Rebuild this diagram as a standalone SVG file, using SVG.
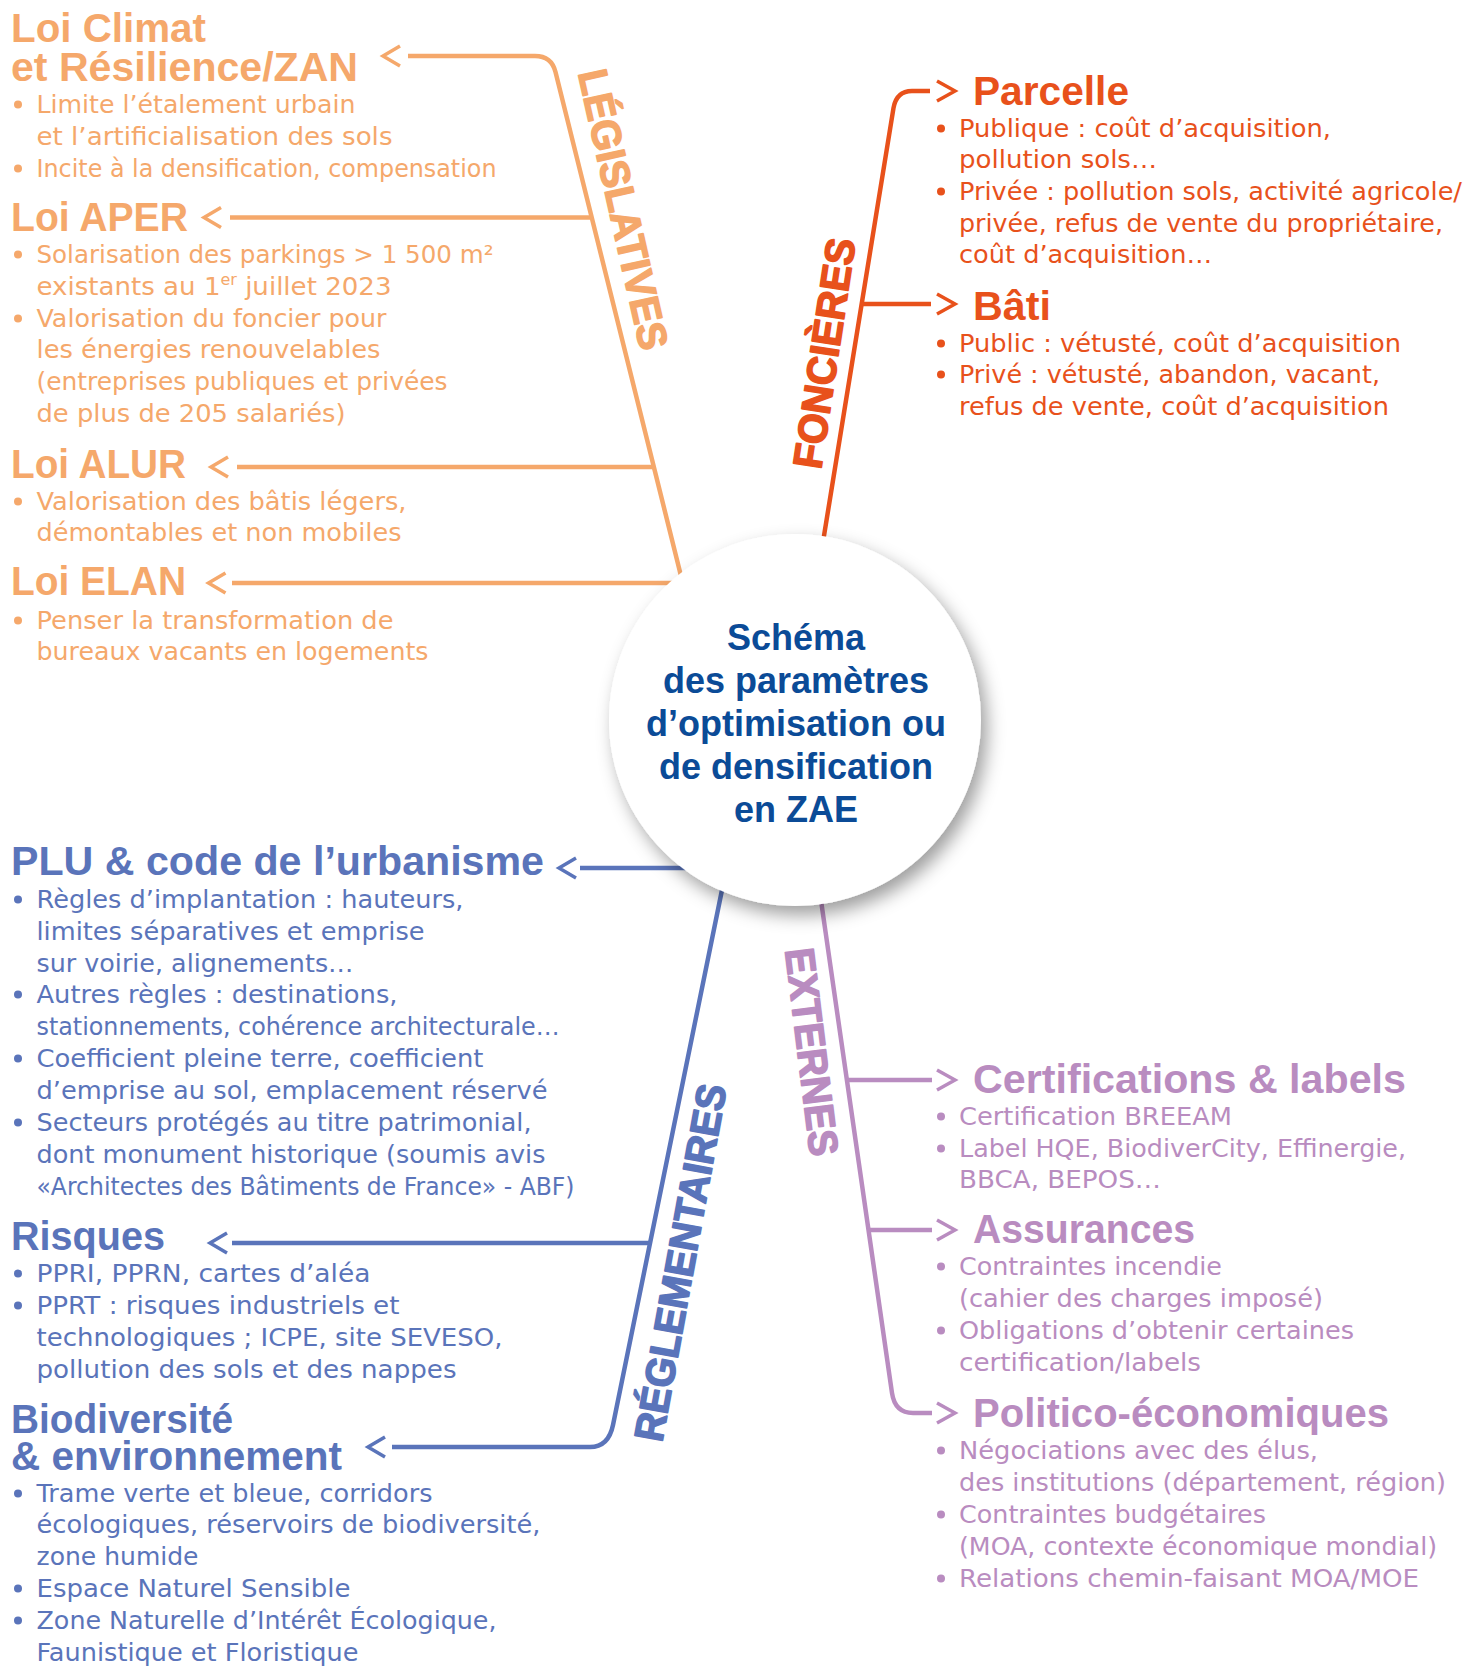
<svg xmlns="http://www.w3.org/2000/svg" width="1478" height="1667" viewBox="0 0 1478 1667">
<defs>
<style>
.h{font-family:"Liberation Sans",Arial,sans-serif;font-weight:bold;font-size:40px}
.b{font-family:"DejaVu Sans","Liberation Sans",sans-serif;font-size:24.5px}
.lbl{font-family:"Liberation Sans",Arial,sans-serif;font-weight:bold;font-size:41px;stroke-width:1.6;stroke-linejoin:round}
.ctr{font-family:"Liberation Sans",Arial,sans-serif;font-weight:bold;font-size:36px;fill:#0B4B97;text-anchor:middle}
.o1{fill:#F5A86B}.o2{fill:#E8511B}.bl{fill:#5A74BA}.pu{fill:#B98CC0}
.s1{stroke:#F5A86B}.s2{stroke:#E8511B}.s3{stroke:#5A74BA}.s4{stroke:#B98CC0}
.ln{fill:none;stroke-width:4.5;stroke-linejoin:round}
.ch{fill:none;stroke-width:3.5;stroke-linejoin:miter}
</style>
<path id="chevL" d="M17,-10 L0,0 L17,10"/>
<path id="chevR" d="M-18,-10 L0,0 L-18,10"/>
<circle id="dot" cx="0" cy="-8.5" r="4"/>
<filter id="shadow" x="-20%" y="-20%" width="150%" height="150%">
<feDropShadow dx="6" dy="9" stdDeviation="9" flood-color="#000" flood-opacity="0.38"/>
</filter>
</defs>
<rect width="1478" height="1667" fill="#fff"/>

<g id="connectors">
<path class="ln s1" d="M408 56 H535 Q551.5 56 555.5 72 L682 580"/>
<path class="ln s1" d="M230 217.5 H592"/>
<path class="ln s1" d="M237 467 H654"/>
<path class="ln s1" d="M232 583 H676"/>
<use href="#chevL" x="383" y="56" class="ch s1"/>
<use href="#chevL" x="204" y="217.5" class="ch s1"/>
<use href="#chevL" x="211" y="467" class="ch s1"/>
<use href="#chevL" x="208.5" y="583" class="ch s1"/>

<path class="ln s2" d="M822.5 545 L893.5 108 Q896.5 91 912 91 H930"/>
<path class="ln s2" d="M862 304 H931"/>
<use href="#chevR" x="955" y="91" class="ch s2"/>
<use href="#chevR" x="955" y="304" class="ch s2"/>

<path class="ln s3" d="M723 885 L613 1425 Q608.5 1447 590 1447 H392"/>
<path class="ln s3" d="M580 868 H700"/>
<path class="ln s3" d="M232 1243 H650"/>
<use href="#chevL" x="559" y="868" class="ch s3"/>
<use href="#chevL" x="210" y="1243" class="ch s3"/>
<use href="#chevL" x="368" y="1447" class="ch s3"/>

<path class="ln s4" d="M819.5 890 L892 1393 Q895 1413 913 1413 H932"/>
<path class="ln s4" d="M848 1080 H932"/>
<path class="ln s4" d="M869 1230 H932"/>
<use href="#chevR" x="955" y="1080" class="ch s4"/>
<use href="#chevR" x="955" y="1230" class="ch s4"/>
<use href="#chevR" x="955" y="1413" class="ch s4"/>
</g>

<g id="label-legislatives"><text class="lbl o1 s1" x="578" y="73" transform="rotate(77.3 578 73)" textLength="286" lengthAdjust="spacingAndGlyphs">LÉGISLATIVES</text></g>
<g id="label-foncieres"><text class="lbl o2 s2" x="821" y="470" transform="rotate(-81.4 821 470)" textLength="232" lengthAdjust="spacingAndGlyphs">FONCIÈRES</text></g>
<g id="label-reglementaires"><text class="lbl bl s3" x="662" y="1443" transform="rotate(-79.7 662 1443)" textLength="362" lengthAdjust="spacingAndGlyphs">RÉGLEMENTAIRES</text></g>
<g id="label-externes"><text class="lbl pu s4" x="785" y="950" transform="rotate(83 785 950)" textLength="209" lengthAdjust="spacingAndGlyphs">EXTERNES</text></g>

<g id="center">
<circle cx="795" cy="720" r="186" fill="#fff" filter="url(#shadow)"/>
<text class="ctr" x="796" y="650">Schéma</text>
<text class="ctr" x="796" y="693">des paramètres</text>
<text class="ctr" x="796" y="736">d’optimisation ou</text>
<text class="ctr" x="796" y="779">de densification</text>
<text class="ctr" x="796" y="822">en ZAE</text>
</g>

<g id="loi-climat">
<text class="h o1" x="11" y="42" textLength="195" lengthAdjust="spacingAndGlyphs">Loi Climat</text>
<text class="h o1" x="11" y="81" textLength="347" lengthAdjust="spacingAndGlyphs">et Résilience/ZAN</text>
<use href="#dot" x="18" y="113" class="o1"/>
<text class="b o1" x="36.5" y="113" textLength="319" lengthAdjust="spacingAndGlyphs">Limite l’étalement urbain</text>
<text class="b o1" x="36.5" y="145" textLength="356" lengthAdjust="spacingAndGlyphs">et l’artificialisation des sols</text>
<use href="#dot" x="18" y="177" class="o1"/>
<text class="b o1" x="36.5" y="177" textLength="460" lengthAdjust="spacingAndGlyphs">Incite à la densification, compensation</text>
</g>

<g id="loi-aper">
<text class="h o1" x="11" y="231" textLength="177" lengthAdjust="spacingAndGlyphs">Loi APER</text>
<use href="#dot" x="18" y="263" class="o1"/>
<text class="b o1" x="36.5" y="263" textLength="457" lengthAdjust="spacingAndGlyphs">Solarisation des parkings &gt; 1 500 m²</text>
<text class="b o1" x="36.5" y="295" textLength="355" lengthAdjust="spacingAndGlyphs">existants au 1<tspan font-size="15" dy="-10">er</tspan><tspan dy="10"> juillet 2023</tspan></text>
<use href="#dot" x="18" y="327" class="o1"/>
<text class="b o1" x="36.5" y="327" textLength="350" lengthAdjust="spacingAndGlyphs">Valorisation du foncier pour</text>
<text class="b o1" x="36.5" y="358" textLength="344" lengthAdjust="spacingAndGlyphs">les énergies renouvelables</text>
<text class="b o1" x="36.5" y="390" textLength="411" lengthAdjust="spacingAndGlyphs">(entreprises publiques et privées</text>
<text class="b o1" x="36.5" y="422" textLength="309" lengthAdjust="spacingAndGlyphs">de plus de 205 salariés)</text>
</g>

<g id="loi-alur">
<text class="h o1" x="11" y="478" textLength="175" lengthAdjust="spacingAndGlyphs">Loi ALUR</text>
<use href="#dot" x="18" y="510" class="o1"/>
<text class="b o1" x="36.5" y="510" textLength="370" lengthAdjust="spacingAndGlyphs">Valorisation des bâtis légers,</text>
<text class="b o1" x="36.5" y="541" textLength="365" lengthAdjust="spacingAndGlyphs">démontables et non mobiles</text>
</g>

<g id="loi-elan">
<text class="h o1" x="11" y="595" textLength="175" lengthAdjust="spacingAndGlyphs">Loi ELAN</text>
<use href="#dot" x="18" y="629" class="o1"/>
<text class="b o1" x="36.5" y="629" textLength="357" lengthAdjust="spacingAndGlyphs">Penser la transformation de</text>
<text class="b o1" x="36.5" y="660" textLength="392" lengthAdjust="spacingAndGlyphs">bureaux vacants en logements</text>
</g>

<g id="parcelle">
<text class="h o2" x="973" y="105" textLength="156" lengthAdjust="spacingAndGlyphs">Parcelle</text>
<use href="#dot" x="941" y="137" class="o2"/>
<text class="b o2" x="959" y="137" textLength="372" lengthAdjust="spacingAndGlyphs">Publique : coût d’acquisition,</text>
<text class="b o2" x="959" y="168" textLength="198" lengthAdjust="spacingAndGlyphs">pollution sols…</text>
<use href="#dot" x="941" y="200" class="o2"/>
<text class="b o2" x="959" y="200" textLength="503" lengthAdjust="spacingAndGlyphs">Privée : pollution sols, activité agricole/</text>
<text class="b o2" x="959" y="232" textLength="484" lengthAdjust="spacingAndGlyphs">privée, refus de vente du propriétaire,</text>
<text class="b o2" x="959" y="263" textLength="253" lengthAdjust="spacingAndGlyphs">coût d’acquisition…</text>
</g>

<g id="bati">
<text class="h o2" x="973" y="320" textLength="78" lengthAdjust="spacingAndGlyphs">Bâti</text>
<use href="#dot" x="941" y="352" class="o2"/>
<text class="b o2" x="959" y="352" textLength="442" lengthAdjust="spacingAndGlyphs">Public : vétusté, coût d’acquisition</text>
<use href="#dot" x="941" y="383" class="o2"/>
<text class="b o2" x="959" y="383" textLength="421" lengthAdjust="spacingAndGlyphs">Privé : vétusté, abandon, vacant,</text>
<text class="b o2" x="959" y="415" textLength="430" lengthAdjust="spacingAndGlyphs">refus de vente, coût d’acquisition</text>
</g>

<g id="plu">
<text class="h bl" x="11" y="875" textLength="533" lengthAdjust="spacingAndGlyphs">PLU &amp; code de l’urbanisme</text>
<use href="#dot" x="18" y="908" class="bl"/>
<text class="b bl" x="36.5" y="908" textLength="427" lengthAdjust="spacingAndGlyphs">Règles d’implantation : hauteurs,</text>
<text class="b bl" x="36.5" y="940" textLength="388" lengthAdjust="spacingAndGlyphs">limites séparatives et emprise</text>
<text class="b bl" x="36.5" y="972" textLength="317" lengthAdjust="spacingAndGlyphs">sur voirie, alignements…</text>
<use href="#dot" x="18" y="1003" class="bl"/>
<text class="b bl" x="36.5" y="1003" textLength="361" lengthAdjust="spacingAndGlyphs">Autres règles : destinations,</text>
<text class="b bl" x="36.5" y="1035" textLength="523" lengthAdjust="spacingAndGlyphs">stationnements, cohérence architecturale…</text>
<use href="#dot" x="18" y="1067" class="bl"/>
<text class="b bl" x="36.5" y="1067" textLength="447" lengthAdjust="spacingAndGlyphs">Coefficient pleine terre, coefficient</text>
<text class="b bl" x="36.5" y="1099" textLength="511" lengthAdjust="spacingAndGlyphs">d’emprise au sol, emplacement réservé</text>
<use href="#dot" x="18" y="1131" class="bl"/>
<text class="b bl" x="36.5" y="1131" textLength="495" lengthAdjust="spacingAndGlyphs">Secteurs protégés au titre patrimonial,</text>
<text class="b bl" x="36.5" y="1163" textLength="509" lengthAdjust="spacingAndGlyphs">dont monument historique (soumis avis</text>
<text class="b bl" x="36.5" y="1195" textLength="538" lengthAdjust="spacingAndGlyphs">«Architectes des Bâtiments de France» - ABF)</text>
</g>

<g id="risques">
<text class="h bl" x="11" y="1250" textLength="154" lengthAdjust="spacingAndGlyphs">Risques</text>
<use href="#dot" x="18" y="1282" class="bl"/>
<text class="b bl" x="36.5" y="1282" textLength="334" lengthAdjust="spacingAndGlyphs">PPRI, PPRN, cartes d’aléa</text>
<use href="#dot" x="18" y="1314" class="bl"/>
<text class="b bl" x="36.5" y="1314" textLength="363" lengthAdjust="spacingAndGlyphs">PPRT : risques industriels et</text>
<text class="b bl" x="36.5" y="1346" textLength="466" lengthAdjust="spacingAndGlyphs">technologiques ; ICPE, site SEVESO,</text>
<text class="b bl" x="36.5" y="1378" textLength="420" lengthAdjust="spacingAndGlyphs">pollution des sols et des nappes</text>
</g>

<g id="biodiversite">
<text class="h bl" x="11" y="1433" textLength="222" lengthAdjust="spacingAndGlyphs">Biodiversité</text>
<text class="h bl" x="11" y="1470" textLength="331" lengthAdjust="spacingAndGlyphs">&amp; environnement</text>
<use href="#dot" x="18" y="1502" class="bl"/>
<text class="b bl" x="36.5" y="1502" textLength="396" lengthAdjust="spacingAndGlyphs">Trame verte et bleue, corridors</text>
<text class="b bl" x="36.5" y="1533" textLength="504" lengthAdjust="spacingAndGlyphs">écologiques, réservoirs de biodiversité,</text>
<text class="b bl" x="36.5" y="1565" textLength="162" lengthAdjust="spacingAndGlyphs">zone humide</text>
<use href="#dot" x="18" y="1597" class="bl"/>
<text class="b bl" x="36.5" y="1597" textLength="314" lengthAdjust="spacingAndGlyphs">Espace Naturel Sensible</text>
<use href="#dot" x="18" y="1629" class="bl"/>
<text class="b bl" x="36.5" y="1629" textLength="460" lengthAdjust="spacingAndGlyphs">Zone Naturelle d’Intérêt Écologique,</text>
<text class="b bl" x="36.5" y="1661" textLength="322" lengthAdjust="spacingAndGlyphs">Faunistique et Floristique</text>
</g>

<g id="certifications">
<text class="h pu" x="973" y="1093" textLength="433" lengthAdjust="spacingAndGlyphs">Certifications &amp; labels</text>
<use href="#dot" x="941" y="1125" class="pu"/>
<text class="b pu" x="959" y="1125" textLength="273" lengthAdjust="spacingAndGlyphs">Certification BREEAM</text>
<use href="#dot" x="941" y="1157" class="pu"/>
<text class="b pu" x="959" y="1157" textLength="447" lengthAdjust="spacingAndGlyphs">Label HQE, BiodiverCity, Effinergie,</text>
<text class="b pu" x="959" y="1188" textLength="202" lengthAdjust="spacingAndGlyphs">BBCA, BEPOS…</text>
</g>

<g id="assurances">
<text class="h pu" x="973" y="1243" textLength="222" lengthAdjust="spacingAndGlyphs">Assurances</text>
<use href="#dot" x="941" y="1275" class="pu"/>
<text class="b pu" x="959" y="1275" textLength="263" lengthAdjust="spacingAndGlyphs">Contraintes incendie</text>
<text class="b pu" x="959" y="1307" textLength="364" lengthAdjust="spacingAndGlyphs">(cahier des charges imposé)</text>
<use href="#dot" x="941" y="1339" class="pu"/>
<text class="b pu" x="959" y="1339" textLength="395" lengthAdjust="spacingAndGlyphs">Obligations d’obtenir certaines</text>
<text class="b pu" x="959" y="1371" textLength="242" lengthAdjust="spacingAndGlyphs">certification/labels</text>
</g>

<g id="politico">
<text class="h pu" x="973" y="1427" textLength="416" lengthAdjust="spacingAndGlyphs">Politico-économiques</text>
<use href="#dot" x="941" y="1459" class="pu"/>
<text class="b pu" x="959" y="1459" textLength="359" lengthAdjust="spacingAndGlyphs">Négociations avec des élus,</text>
<text class="b pu" x="959" y="1491" textLength="487" lengthAdjust="spacingAndGlyphs">des institutions (département, région)</text>
<use href="#dot" x="941" y="1523" class="pu"/>
<text class="b pu" x="959" y="1523" textLength="307" lengthAdjust="spacingAndGlyphs">Contraintes budgétaires</text>
<text class="b pu" x="959" y="1555" textLength="478" lengthAdjust="spacingAndGlyphs">(MOA, contexte économique mondial)</text>
<use href="#dot" x="941" y="1587" class="pu"/>
<text class="b pu" x="959" y="1587" textLength="460" lengthAdjust="spacingAndGlyphs">Relations chemin-faisant MOA/MOE</text>
</g>
</svg>
